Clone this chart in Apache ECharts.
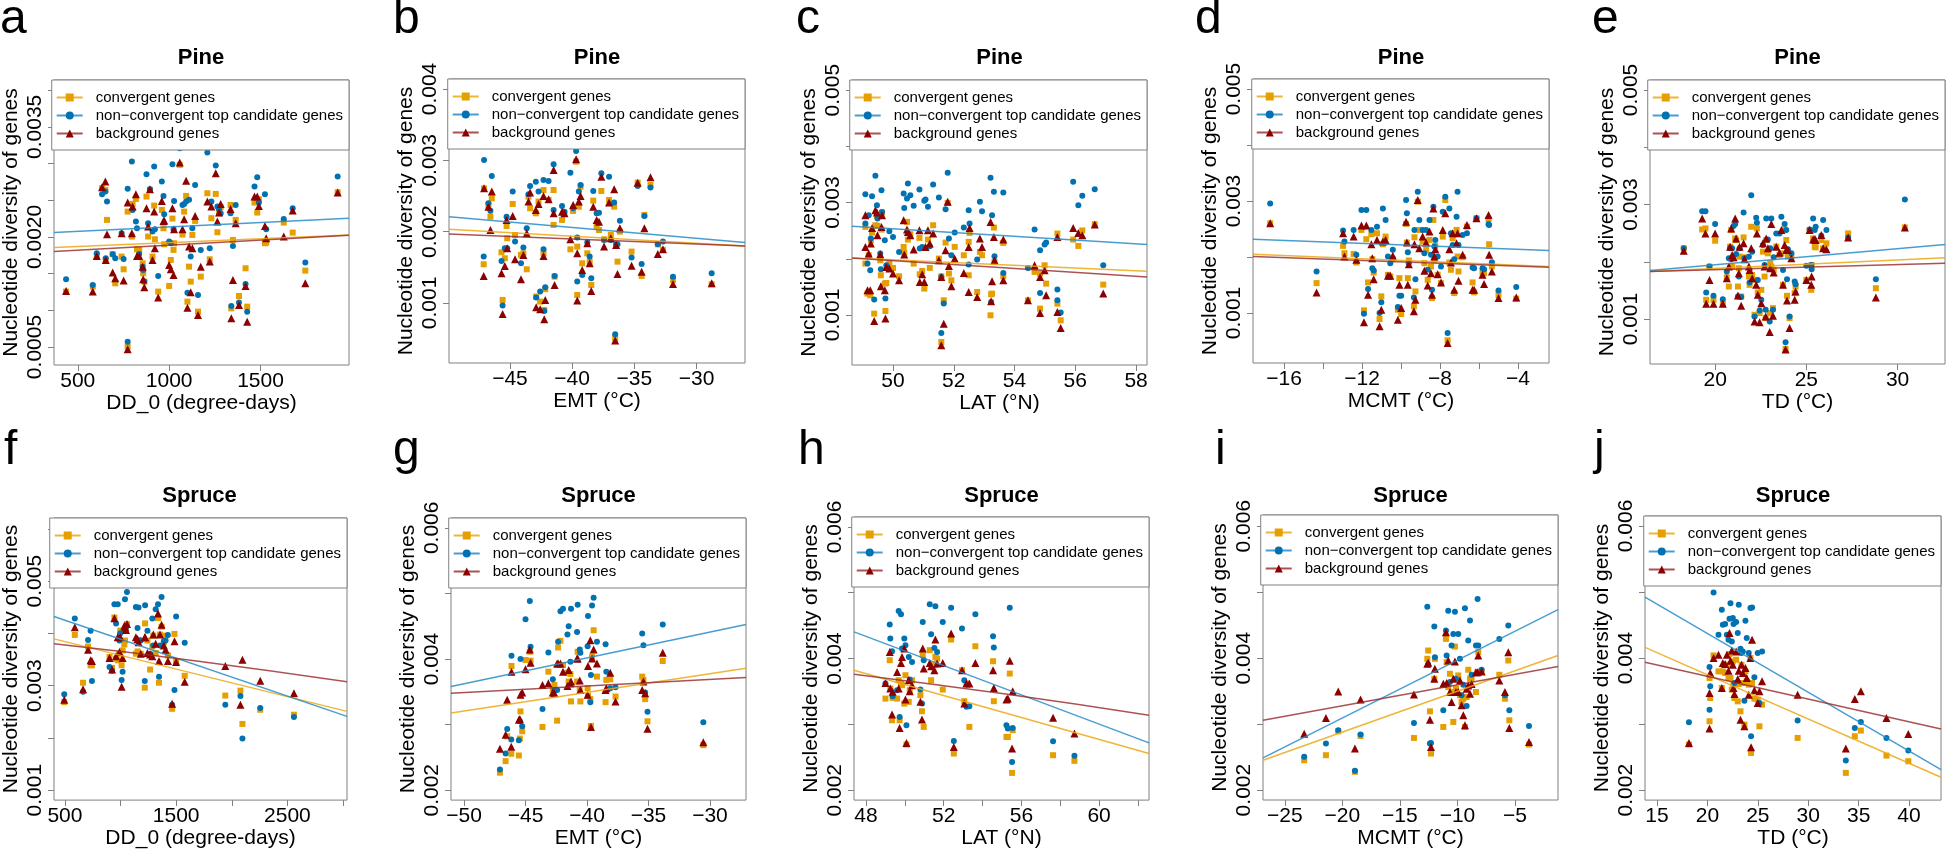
<!DOCTYPE html>
<html><head><meta charset="utf-8">
<script src="https://cdn.jsdelivr.net/npm/echarts@6.0.0/dist/echarts.min.js"></script>
<style>html,body{margin:0;padding:0;background:#fff}#chart{width:1946px;height:850px}</style>
</head><body><div id="chart"></div>
<script>
// ---------- DATA (nucleotide diversity in units of 1e-3) ----------
const SERIES_NAMES = ['convergent genes', 'non\u2212convergent top candidate genes', 'background genes'];
const Y_UNIT = 1e-3;

// a: Pine, DD_0 (degree-days)
const a_x = [436,582,604,633,651,653,660,691,705,740,751,773,796,800,818,824,836,855,858,864,876,885,895,909,918,922,940,960,969,973,1000,1009,1018,1024,1027,1058,1073,1082,1093,1100,1109,1118,1127,1142,1158,1173,1209,1222,1231,1255,1264,1273,1282,1336,1340,1349,1364,1382,1418,1427,1467,1482,1491,1524,1531,1627,1676,1745,1922,773];
const a_convergent = [1.255,1.323,1.741,2.664,2.641,1.682,2.232,1.764,1.368,1.732,1.559,2.345,2.005,2.450,2.518,1.832,1.823,1.641,1.505,1.391,2.550,2.005,2.641,1.732,2.427,1.968,1.255,2.368,2.118,1.900,1.332,1.686,2.250,1.823,1.914,2.982,2.032,2.345,2.559,1.118,1.595,1.391,2.027,2.218,0.982,1.459,2.595,1.695,2.255,2.586,2.064,2.323,2.405,2.436,1.027,1.959,2.232,1.195,1.573,1.050,2.468,2.332,2.514,1.914,1.923,2.195,2.059,1.541,2.609,0.505];
const a_nonconvergent = [1.423,1.345,1.777,2.582,2.618,1.709,2.482,1.764,1.709,2.050,1.700,2.655,3.027,2.368,2.209,2.118,1.768,1.595,1.550,1.391,2.855,2.186,2.650,2.073,2.959,2.105,1.468,2.755,2.559,2.309,1.936,1.914,2.991,2.105,2.491,3.209,2.436,2.450,2.482,1.241,2.505,1.732,2.118,2.709,1.209,1.823,3.150,1.845,2.482,2.973,2.414,2.377,2.323,2.323,1.059,1.877,2.436,1.105,1.359,0.982,2.686,2.814,2.468,2.582,2.105,2.245,2.391,1.650,2.823,0.573];
const a_background = [1.264,1.255,1.741,2.677,2.755,1.686,2.036,1.514,1.436,2.050,1.405,2.468,2.050,2.414,2.582,1.741,1.741,1.595,1.423,1.314,2.391,2.141,2.650,1.686,2.345,1.845,1.173,2.491,2.218,2.223,1.618,1.559,2.391,1.482,2.105,3.014,2.105,2.241,2.764,1.036,1.868,1.245,1.845,2.286,0.936,1.595,2.482,1.664,2.414,2.868,2.209,2.332,2.450,2.382,0.891,1.414,2.186,1.073,1.332,0.845,2.550,2.550,2.423,2.150,1.982,2.005,2.359,1.368,2.605,0.468];
const a_fit_convergent = [[370,1.855],[1984,2.027]];
const a_fit_nonconvergent = [[370,2.059],[1984,2.255]];
const a_fit_background = [[370,1.800],[1984,2.023]];

// b: Pine, EMT
const b_x = [-47.08,-47.11,-46.73,-46.57,-46.46,-45.68,-45.59,-45.41,-45.27,-45.22,-44.78,-44.59,-44.11,-43.92,-43.65,-43.51,-43.38,-42.92,-42.89,-42.70,-42.57,-42.30,-42.30,-42.24,-42.16,-41.89,-41.49,-41.49,-41.41,-40.81,-40.62,-40.14,-39.92,-39.68,-39.59,-39.59,-39.46,-39.32,-39.19,-38.78,-38.59,-38.46,-38.30,-38.03,-37.84,-37.65,-37.43,-37.03,-36.89,-36.62,-36.54,-36.46,-36.35,-36.16,-35.22,-34.73,-34.41,-34.19,-33.70,-33.11,-32.70,-31.89,-28.78];
const b_convergent = [2.607,1.542,2.374,2.210,2.467,1.710,1.042,1.626,2.079,1.907,2.388,1.953,1.673,1.696,1.472,2.491,2.327,2.257,1.089,2.421,1.019,2.584,1.696,0.902,1.192,2.444,2.584,2.093,1.369,2.164,2.257,1.752,2.290,2.981,1.112,1.790,2.350,2.631,1.556,1.696,1.579,1.252,2.435,2.070,2.023,2.570,1.893,2.444,1.953,2.350,0.505,1.813,1.579,2.000,1.720,2.687,1.379,2.234,2.654,1.822,1.743,1.322,1.262];
const b_nonconvergent = [3.005,1.650,2.397,2.294,2.780,1.589,0.963,1.766,2.210,1.766,2.561,1.860,1.556,1.776,2.047,2.523,2.640,2.701,1.075,2.561,1.159,2.724,1.752,0.888,1.220,2.710,2.944,2.304,1.379,2.360,2.280,2.827,2.327,3.131,1.299,1.916,2.561,2.654,1.393,1.850,1.650,1.346,2.570,2.257,2.266,2.818,1.883,2.771,1.883,2.407,0.561,1.822,1.822,2.154,1.636,2.640,1.547,2.220,2.617,1.822,1.860,1.369,1.416];
const b_background = [2.607,1.379,2.350,2.023,2.561,1.416,0.846,1.519,2.164,1.766,2.220,1.612,1.332,1.673,1.977,2.421,2.547,2.304,0.939,2.388,0.911,2.500,1.659,0.771,1.042,2.453,2.864,2.257,1.252,2.280,2.257,1.893,2.374,3.014,1.033,1.696,2.421,2.500,1.463,1.836,1.556,1.168,2.350,2.164,2.140,2.771,1.790,2.407,1.907,2.593,0.472,1.813,1.407,2.047,1.523,2.687,1.439,2.047,2.762,1.687,1.752,1.266,1.276];
const b_fit_convergent = [[-49.9,2.033],[-26.1,1.799]];
const b_fit_nonconvergent = [[-49.9,2.210],[-26.1,1.846]];
const b_fit_background = [[-49.9,1.967],[-26.1,1.799]];

// c: Pine, LAT
const c_x = [49.09,49.09,49.16,49.20,49.25,49.31,49.27,49.38,49.42,49.47,49.49,49.58,49.60,49.62,49.64,49.73,49.75,49.78,49.88,50.00,50.20,50.35,50.37,50.46,50.49,50.57,50.68,50.87,50.88,50.96,51.03,51.07,51.15,51.21,51.32,51.51,51.59,51.67,51.59,51.73,51.80,51.84,51.92,52.03,52.33,52.49,52.49,52.52,52.77,52.86,52.93,53.21,53.23,53.26,53.32,53.34,53.63,53.63,54.44,54.66,54.84,54.84,54.99,55.04,55.41,55.41,55.52,55.93,56.10,56.23,56.64,56.92];
const c_convergent = [2.567,1.914,1.380,2.062,1.350,2.466,2.329,1.024,2.596,2.763,2.585,1.973,1.706,2.519,2.822,1.558,1.071,1.570,1.914,1.837,1.688,2.211,2.110,2.656,2.341,2.436,1.914,2.371,1.724,1.783,1.469,2.193,2.341,1.837,2.596,2.003,1.688,1.261,0.519,2.288,2.994,1.736,1.617,2.211,2.062,2.300,1.706,2.460,1.409,2.122,2.062,0.994,1.368,1.380,2.555,1.944,2.282,1.688,1.261,1.766,1.736,1.113,1.884,1.558,2.448,1.202,0.905,2.341,2.228,2.504,2.614,1.540];
const c_nonconvergent = [3.148,2.626,1.914,2.774,1.795,3.113,2.359,1.273,3.475,2.953,2.715,2.092,1.813,3.220,2.834,2.329,1.291,1.884,2.490,2.389,2.122,3.160,2.905,3.071,3.338,3.131,2.941,3.231,2.181,2.211,3.030,3.053,2.923,2.223,3.320,3.089,1.677,1.202,0.680,2.881,3.528,2.359,2.062,2.466,2.555,2.864,1.896,2.626,1.985,3.012,2.846,3.439,1.231,2.774,3.190,2.045,3.178,1.748,1.837,2.519,2.151,1.392,2.252,2.288,1.451,1.261,1.042,3.368,2.953,3.119,3.237,1.884];
const c_background = [2.774,2.211,1.439,2.092,1.439,2.549,2.270,0.893,2.864,2.822,2.418,2.080,1.510,2.567,2.774,1.439,0.935,1.855,1.825,1.736,1.617,2.685,2.074,2.519,2.478,2.418,2.163,2.507,1.588,1.724,1.588,2.211,2.507,2.270,2.448,1.973,1.677,0.846,0.460,2.151,3.012,1.872,1.510,2.003,1.748,2.211,1.409,2.549,1.320,2.359,2.211,2.656,1.243,1.599,2.389,1.973,2.341,1.617,1.261,1.884,1.677,1.036,1.795,1.350,2.389,1.053,0.769,2.549,2.460,2.418,2.608,1.380];
const c_fit_convergent = [[48.65,2.015],[58.36,1.777]];
const c_fit_nonconvergent = [[48.65,2.579],[58.36,2.252]];
const c_fit_background = [[48.65,2.015],[58.36,1.677]];

// d: Pine, MCMT
const d_x = [-16.71,-14.33,-12.97,-12.90,-12.43,-12.29,-12.03,-11.90,-11.78,-11.69,-11.52,-11.47,-11.40,-11.23,-11.10,-11.01,-10.93,-10.79,-10.67,-10.55,-10.42,-10.16,-10.08,-9.99,-9.74,-9.70,-9.65,-9.60,-9.34,-9.31,-9.26,-9.14,-9.06,-8.89,-8.80,-8.71,-8.63,-8.54,-8.46,-8.41,-8.34,-8.29,-8.24,-8.12,-7.95,-7.86,-7.73,-7.61,-7.52,-7.44,-7.35,-7.27,-7.15,-7.10,-7.05,-6.84,-6.62,-6.33,-6.25,-6.13,-5.82,-5.74,-5.51,-5.48,-5.34,-5.00,-4.09];
const d_convergent = [2.602,1.534,2.199,2.068,2.056,1.902,2.484,1.047,2.318,1.546,2.407,1.961,1.724,2.424,0.893,1.297,2.228,2.365,1.682,1.653,1.961,1.059,1.623,0.982,2.591,2.258,1.623,1.938,1.119,2.353,1.386,2.988,2.484,2.276,1.890,2.128,1.593,2.306,1.831,1.267,2.662,1.950,2.199,1.682,1.534,2.365,3.018,0.513,1.902,1.772,2.335,1.356,2.484,2.009,1.742,1.997,2.543,1.546,1.368,2.691,1.724,1.712,2.677,2.228,1.831,1.326,1.255];
const d_nonconvergent = [2.958,1.742,2.472,2.276,2.484,2.039,2.840,0.988,2.840,1.427,2.484,1.801,1.760,2.543,1.000,1.190,2.869,2.662,2.009,1.890,2.128,1.107,1.309,1.309,3.018,2.780,2.086,1.890,1.279,2.484,1.605,3.166,2.662,2.484,2.068,2.484,1.772,2.662,2.039,1.415,2.899,2.187,2.306,2.009,1.831,2.810,3.077,0.644,2.869,2.424,2.217,1.961,2.721,3.166,2.217,2.395,2.424,1.813,1.801,2.691,1.801,1.783,2.585,2.573,1.908,1.404,1.463];
const d_background = [2.602,1.368,2.424,2.009,2.365,1.950,2.561,0.834,2.561,1.326,2.228,1.979,1.605,2.306,0.763,1.059,2.276,2.306,1.665,1.665,2.021,0.881,1.504,1.089,2.632,2.258,1.504,1.872,1.030,2.228,1.237,3.018,2.157,2.365,1.754,2.258,1.493,2.454,1.712,1.326,2.869,2.009,2.139,1.694,1.546,2.484,2.780,0.466,2.139,1.902,2.424,1.415,2.246,2.424,1.576,2.039,2.573,1.415,1.415,2.691,1.682,1.516,2.751,2.039,1.742,1.267,1.279];
const d_fit_convergent = [[-17.59,2.050],[-2.41,1.831]];
const d_fit_nonconvergent = [[-17.59,2.318],[-2.41,2.116]];
const d_fit_background = [[-17.59,2.009],[-2.41,1.819]];

// e: Pine, TD
const e_x = [18.28,19.29,19.47,19.51,19.69,19.91,20.00,20.42,20.64,20.75,20.82,20.88,20.93,21.01,21.10,21.15,21.25,21.30,21.34,21.43,21.56,21.61,21.85,21.89,21.98,22.03,22.16,22.25,22.29,22.34,22.44,22.53,22.62,22.71,22.77,22.80,22.89,22.99,23.02,23.08,23.17,23.21,23.35,23.53,23.63,23.72,23.81,23.86,23.90,23.94,23.99,24.08,24.18,24.36,24.41,25.00,25.18,25.27,25.29,25.37,25.46,25.51,25.82,25.92,26.10,27.29,28.81,30.40];
const e_convergent = [2.235,2.565,2.583,1.336,1.916,1.336,2.368,1.267,1.730,1.568,2.264,2.554,1.916,2.061,2.409,2.380,1.568,1.887,2.090,1.394,2.426,2.078,1.742,1.597,2.612,1.771,1.075,1.684,2.583,1.464,1.104,1.510,2.177,1.742,1.017,2.380,2.148,1.104,1.974,1.916,1.191,1.858,2.264,2.119,2.148,1.597,2.565,0.478,2.380,1.406,2.090,1.017,2.090,1.452,1.568,1.684,2.554,1.510,1.945,2.409,2.264,2.252,2.380,2.235,2.322,2.496,1.539,2.601];
const e_nonconvergent = [2.235,2.884,2.884,1.464,1.916,1.406,2.658,1.348,1.829,2.061,2.235,2.043,2.235,2.623,2.658,2.136,1.394,1.742,2.235,1.383,2.861,2.061,2.090,1.638,3.162,2.177,1.046,2.768,2.681,1.684,1.151,1.336,2.293,1.945,1.162,2.757,2.391,0.959,2.235,2.757,1.162,2.078,2.496,2.496,2.786,1.858,2.658,0.594,2.554,1.696,2.217,1.046,2.148,1.655,1.609,1.933,2.565,1.945,1.870,2.757,2.554,2.612,2.455,2.728,2.554,2.426,1.696,3.087];
const e_background = [2.194,2.757,2.496,1.267,1.684,1.267,2.496,1.267,1.713,1.916,2.264,2.583,2.119,2.078,2.757,2.409,1.412,1.800,2.264,1.232,2.322,2.043,1.916,1.858,2.235,1.713,0.959,1.597,2.496,1.423,0.942,1.278,2.322,1.916,1.046,2.409,2.235,0.774,1.887,2.658,1.058,1.812,2.264,2.159,2.554,1.597,2.293,0.467,2.206,1.325,2.206,0.843,2.061,1.336,1.481,1.684,2.554,1.597,1.742,2.391,2.391,2.380,2.467,2.235,2.217,2.426,1.377,2.601];
const e_fit_convergent = [[16.43,1.829],[32.6,2.072]];
const e_fit_nonconvergent = [[16.43,1.846],[32.6,2.304]];
const e_fit_background = [[16.43,1.829],[32.6,1.974]];

// f: Spruce, DD_0
const f_x = [494,589,663,708,731,743,901,924,945,960,975,990,998,1010,1019,1034,1040,1049,1058,1138,1153,1162,1182,1218,1221,1242,1266,1286,1295,1316,1337,1346,1355,1369,1390,1405,1426,1464,1485,1500,1577,1942,2078,2096,2256,2559];
const f_convergent = [2.685,3.972,3.057,3.751,3.391,3.391,3.549,3.341,4.306,3.517,3.486,3.612,4.054,3.391,3.675,3.789,3.864,4.054,4.180,3.612,3.656,3.877,3.612,2.962,4.192,3.864,3.309,3.751,3.959,3.625,4.293,3.057,3.978,4.129,3.833,3.959,3.580,2.558,3.991,3.473,3.189,2.811,2.905,2.268,2.539,2.445];
const f_nonconvergent = [2.836,4.287,2.886,3.877,4.054,3.088,3.360,3.284,4.558,4.192,4.558,3.864,4.003,3.107,3.265,4.054,4.653,4.117,4.792,4.508,4.104,4.495,3.864,3.088,4.539,4.054,3.612,4.287,3.770,4.464,4.558,3.170,3.770,4.697,3.852,3.864,3.972,2.634,2.918,4.325,3.820,2.634,2.804,1.991,2.571,2.401];
const f_background = [2.729,4.117,2.931,3.688,3.486,3.473,3.530,3.309,4.293,3.562,3.927,3.644,3.927,2.981,3.530,4.148,4.117,4.066,4.180,3.927,3.896,3.833,3.612,3.927,3.927,3.625,3.599,3.562,3.978,3.801,4.382,3.473,3.978,4.167,3.770,3.688,3.473,2.653,3.852,3.454,3.076,3.379,2.634,3.498,3.095,2.855];
const f_fit_convergent = [[402,3.896],[3036,2.508]];
const f_fit_nonconvergent = [[402,4.325],[3036,2.413]];
const f_fit_background = [[402,3.801],[1700,3.470],[3036,3.076]];

// g: Spruce, EMT
const g_x = [-47.08,-46.62,-46.49,-46.16,-46.14,-45.54,-45.46,-45.41,-45.27,-45.00,-44.65,-44.59,-43.62,-43.14,-42.78,-42.65,-42.43,-42.35,-42.16,-41.95,-41.59,-41.49,-41.35,-41.30,-40.81,-40.76,-40.59,-40.54,-39.95,-39.92,-39.73,-39.68,-39.59,-39.46,-39.19,-38.49,-38.43,-38.11,-37.68,-35.51,-35.41,-35.27,-35.08,-33.84,-30.54];
const g_convergent = [2.268,2.444,2.823,2.556,3.894,2.530,2.788,3.202,2.899,3.985,4.111,3.975,2.965,3.808,3.530,3.606,3.061,4.177,4.278,3.909,3.793,3.657,3.773,3.354,3.657,4.111,3.530,3.354,3.556,3.439,3.389,2.980,4.035,4.439,3.732,3.343,3.682,3.692,3.429,3.732,3.682,3.389,3.051,3.970,2.687];
const g_nonconvergent = [2.318,2.561,2.934,2.773,4.051,2.763,3.051,4.000,2.975,4.606,4.884,4.187,3.237,4.101,3.692,3.530,3.530,4.263,4.727,4.768,4.374,4.500,3.960,4.768,4.414,4.828,4.146,4.096,4.197,4.657,3.343,3.758,4.818,4.934,4.263,4.227,3.808,3.556,3.571,4.389,4.212,3.490,3.197,4.525,3.035];
const g_background = [2.631,2.848,3.379,2.662,3.808,3.076,3.086,3.455,3.490,3.843,4.146,3.944,3.606,3.631,3.490,3.480,3.934,3.934,3.934,3.808,3.591,3.833,3.631,3.657,4.010,4.010,3.672,3.530,3.455,3.894,4.288,2.965,4.010,4.146,3.934,3.530,3.556,3.793,3.354,3.530,3.657,3.480,2.939,4.096,2.732];
const g_fit_convergent = [[-51.06,3.177],[-27.07,3.859]];
const g_fit_nonconvergent = [[-51.06,3.581],[-27.07,4.525]];
const g_fit_background = [[-51.06,3.480],[-27.07,3.717]];

// h: Spruce, LAT
const h_x = [49.00,49.22,49.25,49.34,49.37,49.60,49.68,49.73,49.80,49.85,49.97,50.03,50.08,50.20,50.25,50.37,50.80,50.88,50.92,50.97,51.28,51.35,51.52,51.57,51.66,51.95,52.38,52.52,52.94,53.06,53.17,53.32,53.63,54.54,54.58,55.23,55.30,55.40,55.52,55.55,57.63,58.73];
const h_convergent = [3.392,3.975,3.544,3.063,3.403,3.392,3.671,3.063,3.620,3.595,3.316,3.747,2.694,3.342,3.519,3.671,3.443,3.200,4.051,2.962,4.127,3.671,3.899,4.025,4.000,3.529,4.289,2.557,3.823,3.352,3.620,2.962,4.187,3.959,3.352,2.810,2.810,3.772,2.263,2.911,2.532,2.446];
const h_nonconvergent = [3.620,4.516,4.304,4.111,3.428,3.519,4.724,3.114,4.673,4.152,4.304,4.203,2.987,4.025,3.681,3.949,3.529,3.316,4.557,3.975,4.825,4.370,4.162,4.795,4.101,4.557,4.770,2.749,4.456,3.671,3.266,3.276,4.673,4.339,4.167,2.987,2.937,4.770,2.430,2.947,2.744,2.522];
const h_background = [3.630,4.101,3.544,3.149,3.494,3.797,3.544,2.947,3.934,4.025,4.152,3.377,2.719,3.671,3.504,3.595,3.342,3.073,4.152,3.848,3.934,3.884,3.823,4.289,3.924,3.934,4.380,2.658,3.823,3.316,3.620,3.620,3.934,3.823,3.554,3.377,3.392,3.965,2.633,3.504,3.099,2.861];
const h_fit_convergent = [[47.38,3.823],[62.57,2.557]];
const h_fit_nonconvergent = [[47.38,4.405],[62.57,2.719]];
const h_fit_background = [[47.38,3.762],[55.0,3.468],[62.57,3.139]];

// i: Spruce, MCMT
const i_x = [-23.32,-21.43,-20.36,-18.91,-18.42,-13.78,-12.62,-12.54,-12.39,-12.30,-12.01,-11.96,-11.23,-11.00,-10.94,-10.80,-10.65,-10.51,-10.36,-10.22,-10.13,-9.93,-9.78,-9.64,-9.49,-9.35,-9.20,-9.06,-8.91,-8.77,-8.39,-8.25,-8.19,-7.90,-6.36,-5.87,-5.58,-5.49,-3.78];
const i_convergent = [2.453,2.529,2.892,2.277,2.821,2.791,3.990,4.116,3.194,2.554,3.688,3.990,2.957,4.292,3.940,3.562,3.763,3.486,3.033,4.176,3.537,3.738,3.436,3.335,3.385,2.957,3.411,3.824,3.688,3.688,3.486,3.788,4.091,3.798,3.748,3.385,3.965,3.058,2.690];
const i_nonconvergent = [2.504,2.705,2.907,2.292,2.841,3.018,4.781,3.904,2.705,2.715,4.479,4.015,3.209,4.418,4.040,4.720,3.637,4.191,4.368,4.705,3.688,4.368,3.990,3.436,3.597,4.756,3.275,4.267,4.569,3.748,4.191,4.897,4.191,3.824,4.292,3.436,4.494,3.209,2.972];
const i_background = [2.856,3.093,3.496,2.630,3.375,3.451,3.914,3.929,3.068,2.655,3.688,3.839,3.612,4.393,3.622,3.965,3.486,3.335,3.688,3.950,3.486,3.486,3.662,3.285,3.134,2.982,3.537,3.587,3.461,3.607,3.788,3.788,4.040,3.798,3.662,3.486,4.091,2.942,2.730];
const i_fit_convergent = [[-26.9,2.453],[-1.26,4.040]];
const i_fit_nonconvergent = [[-26.9,2.489],[-1.26,4.736]];
const i_fit_background = [[-26.9,3.058],[-1.26,3.874]];

// j: Spruce, TD
const j_x = [18.17,20.21,20.21,20.28,20.61,21.10,21.43,21.53,21.76,21.93,22.09,22.19,22.29,22.42,22.52,22.59,22.68,22.85,23.01,23.11,23.28,23.38,23.51,23.67,23.77,23.90,24.10,24.27,24.33,24.43,24.66,24.99,25.16,25.42,28.95,33.73,34.62,35.22,37.76,39.93];
const j_convergent = [2.690,3.043,3.698,3.395,4.040,3.798,3.547,3.798,3.773,3.899,3.698,4.060,3.698,3.521,3.950,3.597,3.395,3.975,3.345,3.607,3.194,3.899,3.622,2.992,3.798,3.647,3.597,4.000,2.564,3.622,3.385,3.370,2.967,3.295,2.791,2.262,2.816,2.902,2.524,2.438];
const j_nonconvergent = [3.028,3.864,3.219,3.572,4.992,4.353,4.730,4.504,4.514,4.353,4.277,4.594,4.831,4.252,4.605,4.514,3.622,4.544,4.378,4.806,4.141,4.076,4.101,3.355,4.564,4.302,4.076,4.756,2.816,4.766,3.708,4.076,3.320,4.101,3.053,2.448,2.942,3.033,2.791,2.600];
const j_background = [2.715,2.932,3.471,3.773,4.000,4.050,3.547,3.924,3.909,4.050,3.809,4.378,3.960,4.116,3.899,3.547,3.456,4.101,3.683,3.809,3.068,3.899,3.773,2.967,3.849,3.698,3.446,4.000,2.650,4.277,3.511,3.320,3.496,3.647,3.446,2.630,3.380,3.496,3.093,2.851];
const j_fit_convergent = [[13.81,4.161],[43.17,2.196]];
const j_fit_nonconvergent = [[13.81,4.922],[43.17,2.312]];
const j_fit_background = [[13.81,3.935],[43.17,2.927]];

// tick values
const yTicksPineA = [0.0005,0.001,0.0015,0.002,0.0025,0.003,0.0035,0.004];
const yLabelsPineA = [0.0005,0.002,0.0035];
const yTicksPineB = [0.001,0.002,0.003,0.004];
const yTicksPine = [0.001,0.002,0.003,0.004,0.005];
const yLabelsPine = [0.001,0.003,0.005];
const yTicksSpruceF = [0.001,0.002,0.003,0.004,0.005,0.006];
const yLabelsSpruceF = [0.001,0.003,0.005];
const yTicksSpruce = [0.002,0.003,0.004,0.005,0.006];
const yLabelsSpruce = [0.002,0.004,0.006];

// ---------- LAYOUT / STYLE ----------
const FONT = '"Liberation Sans", Arial, Helvetica, sans-serif';
const COLORS = ['#E69F00', '#0072B2', '#8B0000'];
const LINE_COLORS = ['rgba(236,168,20,0.85)', 'rgba(40,140,200,0.85)', 'rgba(150,40,40,0.8)'];
const SYMBOLS = ['rect', 'circle', 'triangle'];
const SYMBOL_SIZES = [6, 6, 8];
const YLABEL = 'Nucleotide diversity of genes';

const panels = [
  {letter:'a', lx:0, ly:20, title:'Pine', xName:'DD_0 (degree-days)', x:a_x, ys:[a_convergent,a_nonconvergent,a_background], fits:[a_fit_convergent,a_fit_nonconvergent,a_fit_background],
   g:[53,80,296,285], xr:[370,1984], yr:[0.000255,0.004138], xt:[500,1000,1500], xl:[500,1000,1500], yt:yTicksPineA, yl:yLabelsPineA, yd:4},
  {letter:'b', lx:393, ly:20, title:'Pine', xName:'EMT (\u00B0C)', x:b_x, ys:[b_convergent,b_nonconvergent,b_background], fits:[b_fit_convergent,b_fit_nonconvergent,b_fit_background],
   g:[449,79,296,284], xr:[-49.9,-26.1], yr:[0.000158,0.00414], xt:[-45,-40,-35,-30], xl:[-45,-40,-35,-30], yt:yTicksPineB, yl:yTicksPineB, yd:3},
  {letter:'c', lx:796, ly:20, title:'Pine', xName:'LAT (\u00B0N)', x:c_x, ys:[c_convergent,c_nonconvergent,c_background], fits:[c_fit_convergent,c_fit_nonconvergent,c_fit_background],
   g:[852,80,295,285], xr:[48.65,58.36], yr:[0.00011,0.00518], xt:[50,52,54,56,58], xl:[50,52,54,56,58], yt:yTicksPine, yl:yLabelsPine, yd:3},
  {letter:'d', lx:1195, ly:20, title:'Pine', xName:'MCMT (\u00B0C)', x:d_x, ys:[d_convergent,d_nonconvergent,d_background], fits:[d_fit_convergent,d_fit_nonconvergent,d_fit_background],
   g:[1253,79,296,284], xr:[-17.59,-2.41], yr:[0.000107,0.00518], xt:[-16,-14,-12,-10,-8,-6,-4], xl:[-16,-12,-8,-4], yt:yTicksPine, yl:yLabelsPine, yd:3},
  {letter:'e', lx:1592, ly:20, title:'Pine', xName:'TD (\u00B0C)', x:e_x, ys:[e_convergent,e_nonconvergent,e_background], fits:[e_fit_convergent,e_fit_nonconvergent,e_fit_background],
   g:[1650,80,295,284], xr:[16.43,32.6], yr:[0.000215,0.005175], xt:[20,25,30], xl:[20,25,30], yt:yTicksPine, yl:yLabelsPine, yd:3},
  {letter:'f', lx:4, ly:451, title:'Spruce', xName:'DD_0 (degree-days)', x:f_x, ys:[f_convergent,f_nonconvergent,f_background], fits:[f_fit_convergent,f_fit_nonconvergent,f_fit_background],
   g:[52,518,295,285], xr:[402,3036], yr:[0.00081,0.00621], xt:[500,1000,1500,2000,2500,3000], xl:[500,1500,2500], yt:yTicksSpruceF, yl:yLabelsSpruceF, yd:3},
  {letter:'g', lx:393, ly:451, title:'Spruce', xName:'EMT (\u00B0C)', x:g_x, ys:[g_convergent,g_nonconvergent,g_background], fits:[g_fit_convergent,g_fit_nonconvergent,g_fit_background],
   g:[451,518,295,285], xr:[-51.06,-27.07], yr:[0.00185,0.00615], xt:[-50,-45,-40,-35,-30], xl:[-50,-45,-40,-35,-30], yt:yTicksSpruce, yl:yLabelsSpruce, yd:3},
  {letter:'h', lx:798, ly:451, title:'Spruce', xName:'LAT (\u00B0N)', x:h_x, ys:[h_convergent,h_nonconvergent,h_background], fits:[h_fit_convergent,h_fit_nonconvergent,h_fit_background],
   g:[854,517,295,285], xr:[47.38,62.57], yr:[0.00185,0.00615], xt:[48,50,52,54,56,58,60,62], xl:[48,52,56,60], yt:yTicksSpruce, yl:yLabelsSpruce, yd:3},
  {letter:'i', lx:1215, ly:451, title:'Spruce', xName:'MCMT (\u00B0C)', x:i_x, ys:[i_convergent,i_nonconvergent,i_background], fits:[i_fit_convergent,i_fit_nonconvergent,i_fit_background],
   g:[1263,515,295,285], xr:[-26.9,-1.26], yr:[0.00185,0.00617], xt:[-25,-20,-15,-10,-5], xl:[-25,-20,-15,-10,-5], yt:yTicksSpruce, yl:yLabelsSpruce, yd:3},
  {letter:'j', lx:1594, ly:451, title:'Spruce', xName:'TD (\u00B0C)', x:j_x, ys:[j_convergent,j_nonconvergent,j_background], fits:[j_fit_convergent,j_fit_nonconvergent,j_fit_background],
   g:[1645,516,296,285], xr:[13.81,43.17], yr:[0.00185,0.00615], xt:[15,20,25,30,35,40], xl:[15,20,25,30,35,40], yt:yTicksSpruce, yl:yLabelsSpruce, yd:3}
];

const W = 1946;
const grids = [], xAxes = [], yAxes = [], legends = [], graphics = [];
const lineSeries = [], scatterSeries = [];
const fmtX = v => (v < 0 ? '\u2212' + Math.abs(v) : String(v));
const TICK_COLOR = '#808080';

panels.forEach((p, idx) => {
  const [L, T, Wd, H] = p.g;
  grids.push({left: L, top: T, width: Wd, height: H, show: true, borderColor: TICK_COLOR, borderWidth: 1, backgroundColor: 'transparent'});
  xAxes.push({
    gridIndex: idx, type: 'value', min: p.xr[0], max: p.xr[1],
    axisLine: {show: false}, splitLine: {show: false},
    axisTick: {show: true, length: 6, lineStyle: {color: TICK_COLOR}, customValues: p.xt},
    axisLabel: {customValues: p.xl, formatter: fmtX, fontSize: 21, fontFamily: FONT, color: '#000', margin: 6},
    name: p.xName, nameLocation: 'middle', nameGap: 20,
    nameTextStyle: {fontSize: 21, fontFamily: FONT, color: '#000'}
  });
  const yd = p.yd;
  yAxes.push({
    gridIndex: idx, type: 'value', min: p.yr[0], max: p.yr[1],
    axisLine: {show: false}, splitLine: {show: false},
    axisTick: {show: true, length: 6, lineStyle: {color: TICK_COLOR}, customValues: p.yt},
    axisLabel: {customValues: p.yl, formatter: v => v.toFixed(yd), rotate: 90, fontSize: 21, fontFamily: FONT, color: '#000', margin: 8},
    name: YLABEL, nameLocation: 'middle', nameGap: 32,
    nameTextStyle: {fontSize: 21, fontFamily: FONT, color: '#000'}
  });
  legends.push({
    right: W - (L + Wd), top: T, orient: 'vertical', selectedMode: false,
    itemWidth: 26, itemHeight: 10, itemGap: 3, padding: [10, 6, 9, 4],
    borderColor: TICK_COLOR, borderWidth: 1, backgroundColor: '#fff',
    textStyle: {fontSize: 15, fontFamily: FONT, color: '#000', padding: [0, 0, 0, 8]},
    data: SERIES_NAMES
  });
  graphics.push({type: 'text', x: L + Wd / 2, y: idx < 5 ? 58 : 496, z: 10,
    style: {text: p.title, font: 'bold 22px ' + FONT, fill: '#000', textAlign: 'center', textVerticalAlign: 'middle'}});
  graphics.push({type: 'text', x: p.lx, y: p.ly, z: 10,
    style: {text: p.letter, font: '48px ' + FONT, fill: '#000', textAlign: 'left', textVerticalAlign: 'middle'}});

  for (let k = 0; k < 3; k++) {
    lineSeries.push({
      type: 'line', name: SERIES_NAMES[k], xAxisIndex: idx, yAxisIndex: idx,
      data: p.fits[k].map(pt => [pt[0], pt[1] * Y_UNIT]),
      smooth: p.fits[k].length > 2, showSymbol: false, symbol: SYMBOLS[k], symbolSize: SYMBOL_SIZES[k],
      lineStyle: {color: LINE_COLORS[k], width: 1.5}, itemStyle: {color: COLORS[k]},
      silent: true, z: 3, animation: false
    });
    scatterSeries.push({
      type: 'scatter', name: SERIES_NAMES[k], xAxisIndex: idx, yAxisIndex: idx,
      data: p.x.map((xv, i) => [xv, p.ys[k][i] * Y_UNIT]),
      symbol: SYMBOLS[k], symbolSize: SYMBOL_SIZES[k], itemStyle: {color: COLORS[k], opacity: 1},
      silent: true, z: 2, animation: false
    });
  }
});

const chart = echarts.init(document.getElementById('chart'), null, {renderer: 'canvas'});
chart.setOption({
  animation: false,
  backgroundColor: '#fff',
  grid: grids, xAxis: xAxes, yAxis: yAxes, legend: legends,
  graphic: graphics,
  series: lineSeries.concat(scatterSeries)
});
</script></body></html>
